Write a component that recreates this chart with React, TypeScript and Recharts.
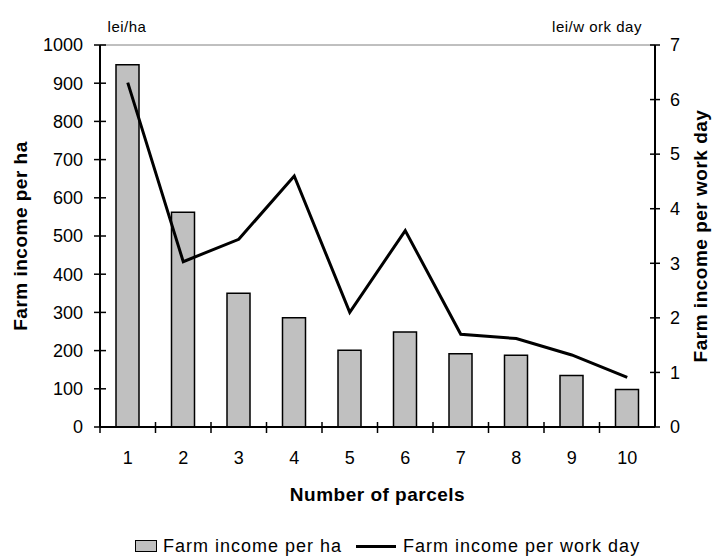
import React from 'react';
import { ComposedChart, Bar, Line, XAxis, YAxis, ReferenceLine } from 'recharts';

// values
const parcels = ['1', '2', '3', '4', '5', '6', '7', '8', '9', '10'];
const incomePerHa = [948, 562, 350, 286, 201, 249, 192, 188, 135, 98];
const incomePerWorkDay = [6.31, 3.03, 3.44, 4.6, 2.1, 3.6, 1.7, 1.62, 1.32, 0.91];
const haTicks = [0, 100, 200, 300, 400, 500, 600, 700, 800, 900, 1000];
const dayTicks = [0, 1, 2, 3, 4, 5, 6, 7];

const seriesNames = {
  perHa: 'Farm income per ha',
  perDay: 'Farm income per work day',
};

const FONT = '"Liberation Sans", Arial, sans-serif';
const WIDTH = 713;
const HEIGHT = 556;
const PLOT_LEFT = 100;
const PLOT_RIGHT = 655;
const PLOT_TOP = 45;
const PLOT_BOTTOM = 427;
const PLOT_W = PLOT_RIGHT - PLOT_LEFT;
const PLOT_MID_Y = (PLOT_TOP + PLOT_BOTTOM) / 2;

const chartData = parcels.map((p, i) => ({
  parcel: p,
  perHa: incomePerHa[i],
  perDay: incomePerWorkDay[i],
}));

// ticks sit on the category boundaries, labels in the middle
const XTick = (props: any) => {
  const { x, y, payload } = props;
  const band = PLOT_W / parcels.length;
  const bx = x - band / 2;
  return (
    <g>
      <line x1={bx} x2={bx} y1={y - 5} y2={y + 6} stroke="#000" strokeWidth={1.5} />
      <text x={x} y={y + 37} textAnchor="middle" fontSize={18} fontFamily={FONT} fill="#000">
        {payload.value}
      </text>
    </g>
  );
};

const LeftTick = (props: any) => {
  const { x, y, payload } = props;
  return (
    <g>
      <line x1={x - 6} x2={x + 6} y1={y} y2={y} stroke="#000" strokeWidth={1.5} />
      <text x={x - 17} y={y} dy="0.35em" textAnchor="end" fontSize={18} fontFamily={FONT} fill="#000">
        {payload.value}
      </text>
    </g>
  );
};

const RightTick = (props: any) => {
  const { x, y, payload } = props;
  return (
    <g>
      <line x1={x - 5} x2={x + 5} y1={y} y2={y} stroke="#000" strokeWidth={1.5} />
      <text x={x + 15} y={y} dy="0.35em" textAnchor="start" fontSize={18} fontFamily={FONT} fill="#000">
        {payload.value}
      </text>
    </g>
  );
};

const titleStyle = { fontSize: 19, fontWeight: 700, fontFamily: FONT, letterSpacing: 0.5 };
const unitStyle = { fontSize: 15, fontFamily: FONT, letterSpacing: 0.5 };

const LeftTitle = () => (
  <g>
    <text x={127} y={32} textAnchor="middle" fill="#000" style={unitStyle}>
      lei/ha
    </text>
    <text
      x={27}
      y={PLOT_MID_Y}
      transform={`rotate(-90, 27, ${PLOT_MID_Y})`}
      textAnchor="middle"
      fill="#000"
      style={titleStyle}
    >
      Farm income per ha
    </text>
  </g>
);

const RightTitle = () => (
  <g>
    <text x={597} y={32} textAnchor="middle" fill="#000" style={unitStyle}>
      lei/w ork day
    </text>
    <text
      x={707}
      y={PLOT_MID_Y}
      transform={`rotate(-90, 707, ${PLOT_MID_Y})`}
      textAnchor="middle"
      fill="#000"
      style={titleStyle}
    >
      Farm income per work day
    </text>
  </g>
);

const XTitle = () => (
  <text x={(PLOT_LEFT + PLOT_RIGHT) / 2} y={501} textAnchor="middle" fill="#000" style={titleStyle}>
    Number of parcels
  </text>
);

const legendText = { fontSize: 18, fontFamily: FONT, letterSpacing: 1, color: '#000', whiteSpace: 'nowrap' as const };

const ChartLegend = () => (
  <div
    style={{
      position: 'absolute',
      left: 135,
      top: 536,
      display: 'flex',
      alignItems: 'center',
      height: 20,
    }}
  >
    <span
      style={{
        display: 'inline-block',
        width: 20,
        height: 10,
        background: '#c0c0c0',
        border: '1.5px solid #000',
        marginRight: 6,
      }}
    />
    <span style={legendText}>{seriesNames.perHa}</span>
    <span style={{ display: 'inline-block', width: 40, height: 3, background: '#000', margin: '0 7px 0 14px' }} />
    <span style={legendText}>{seriesNames.perDay}</span>
  </div>
);

export default function App() {
  return (
    <div style={{ position: 'absolute', left: 0, top: 0, width: WIDTH, height: HEIGHT, background: '#fff' }}>
      <ComposedChart
        width={WIDTH}
        height={HEIGHT}
        data={chartData}
        margin={{ top: PLOT_TOP, right: 0, bottom: 0, left: 0 }}
      >
        <XAxis
          dataKey="parcel"
          height={HEIGHT - PLOT_BOTTOM}
          interval={0}
          tickLine={false}
          tickSize={0}
          tickMargin={0}
          tick={<XTick />}
          axisLine={{ stroke: '#000', strokeWidth: 2 }}
          label={<XTitle />}
        />
        <YAxis
          yAxisId="ha"
          orientation="left"
          width={PLOT_LEFT}
          domain={[0, 1000]}
          ticks={haTicks}
          interval={0}
          tickLine={false}
          tickSize={0}
          tickMargin={0}
          tick={<LeftTick />}
          axisLine={{ stroke: '#000', strokeWidth: 2 }}
          label={<LeftTitle />}
        />
        <YAxis
          yAxisId="day"
          orientation="right"
          width={WIDTH - PLOT_RIGHT}
          domain={[0, 7]}
          ticks={dayTicks}
          interval={0}
          tickLine={false}
          tickSize={0}
          tickMargin={0}
          tick={<RightTick />}
          axisLine={{ stroke: '#000', strokeWidth: 2 }}
          label={<RightTitle />}
        />
        <ReferenceLine yAxisId="ha" y={1000} stroke="#808080" strokeWidth={1} />
        <Bar
          yAxisId="ha"
          dataKey="perHa"
          name={seriesNames.perHa}
          fill="#c0c0c0"
          stroke="#000"
          strokeWidth={1.5}
          barSize={23}
          isAnimationActive={false}
        />
        <Line
          yAxisId="day"
          type="linear"
          dataKey="perDay"
          name={seriesNames.perDay}
          stroke="#000"
          strokeWidth={3}
          dot={false}
          isAnimationActive={false}
        />
      </ComposedChart>
      <ChartLegend />
    </div>
  );
}
